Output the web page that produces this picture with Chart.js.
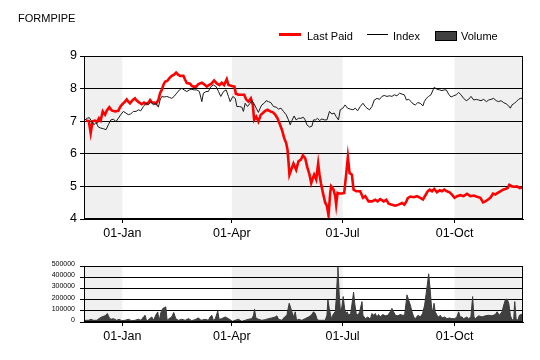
<!DOCTYPE html>
<html>
<head>
<meta charset="utf-8">
<script src="https://cdn.jsdelivr.net/npm/chart.js@4.4.1/dist/chart.umd.min.js"></script>
<style>
	html, body { margin: 0; padding: 0; background: #fff; }
	#wrap { position: relative; width: 540px; height: 360px; overflow: hidden; font-family: "Liberation Sans", Arial, sans-serif; font-size: 11px; color: #000; }
	canvas { position: absolute; left: 0; }
	#c-main { top: 0; }
	#c-vol { top: 250px; }
	.txt { position: absolute; line-height: 12px; white-space: nowrap; }
	.sw { position: absolute; }
</style>
</head>
<body>
<div id="wrap">
	<canvas id="c-main" width="540" height="250"></canvas>
	<canvas id="c-vol" width="540" height="110"></canvas>
	<div class="txt" style="left:18px; top:12px;">FORMPIPE</div>
	<div class="sw" style="left:279px; top:33px; width:22px; height:2.5px; background:#ff0000;"></div>
	<div class="txt" style="left:307px; top:29.5px;">Last Paid</div>
	<div class="sw" style="left:367px; top:33.5px; width:21px; height:1.5px; background:#000;"></div>
	<div class="txt" style="left:393px; top:29.5px;">Index</div>
	<div class="sw" style="left:435px; top:31px; width:20px; height:8px; background:#404040; border:1px solid #000;"></div>
	<div class="txt" style="left:461px; top:29.5px;">Volume</div>
</div>
<script>
// x = days from 01-Jan
const X_MIN = -31.5, X_MAX = 329.2;
const tickDays = [0, 90, 181, 273];
const tickLabels = ['01-Jan', '01-Apr', '01-Jul', '01-Oct'];
const shadeBands = [[-31.5, 0], [90, 181], [273, 329.2]];

// Last Paid (red)
const lastPaidDays = [-29.9,-27.5,-26.0,-24.4,-22.5,-20.6,-19.2,-17.8,-16.1,-14.2,-12.8,-10.7,-8.7,-6.0,-3.3,-1.9,-0.5,2.2,3.6,4.9,6.3,8.6,10.4,11.8,14.0,15.9,17.8,19.5,21.4,22.8,24.2,26.1,27.7,29.6,31.0,32.4,33.7,35.1,37.0,38.7,40.6,42.5,44.2,46.1,47.5,50.2,51.6,53.0,55.7,57.1,58.4,60.6,62.5,65.3,67.2,69.4,71.1,73.5,75.4,77.6,79.8,81.7,83.6,85.8,87.2,90.0,92.1,93.3,95.4,98.2,100.1,101.7,103.6,105.6,107.2,108.3,110.0,111.8,113.8,115.5,117.4,119.3,121.5,123.7,125.6,127.5,129.1,131.1,133.0,134.6,135.7,136.5,137.3,139.3,140.6,142.8,144.7,146.7,148.3,150.2,152.1,153.8,155.2,156.6,157.6,159.3,160.9,162.0,163.2,164.8,166.7,168.1,169.4,170.8,171.6,173.5,174.9,175.7,176.8,178.5,180.4,182.3,184.0,185.3,186.7,188.6,190.0,192.2,195.5,197.7,199.6,202.3,205.1,207.8,209.7,211.9,214.7,216.9,218.8,221.5,224.3,227.0,229.8,231.7,233.4,234.5,236.7,239.4,242.1,244.8,247.0,248.9,250.9,252.5,254.4,256.3,258.5,260.7,262.6,264.5,266.7,268.9,270.8,273.0,275.0,277.7,280.4,283.2,286.0,288.7,291.4,294.2,296.4,298.3,300.2,302.4,304.6,306.5,308.4,310.6,312.8,314.7,316.6,318.0,320.2,322.1,324.3,326.5,329.2];
const lastPaid = [7.02,7.00,6.64,7.00,7.02,6.98,7.09,7.02,7.30,7.20,7.32,7.43,7.33,7.30,7.32,7.43,7.50,7.60,7.67,7.60,7.55,7.65,7.70,7.63,7.57,7.52,7.57,7.53,7.57,7.65,7.58,7.57,7.53,7.65,7.86,7.96,8.11,8.21,8.24,8.32,8.39,8.43,8.49,8.42,8.39,8.39,8.27,8.17,8.15,8.08,8.06,8.06,8.14,8.18,8.13,8.06,8.11,8.16,8.25,8.16,8.11,8.18,8.11,8.29,8.11,8.08,8.06,7.84,7.81,7.81,7.81,7.67,7.60,7.70,7.50,7.04,7.14,6.99,7.20,7.25,7.32,7.35,7.30,7.27,7.20,7.09,6.94,6.74,6.48,6.33,6.13,5.77,5.36,5.57,5.70,5.51,5.77,5.82,5.95,5.87,5.57,5.36,5.10,5.26,5.36,5.21,5.70,5.36,5.10,4.80,4.50,4.40,4.11,4.80,5.00,4.90,4.70,4.44,4.80,4.78,4.78,4.80,5.41,5.90,5.41,5.36,4.90,4.85,4.85,4.65,4.70,4.54,4.54,4.59,4.54,4.61,4.54,4.59,4.47,4.44,4.41,4.44,4.49,4.44,4.54,4.64,4.69,4.67,4.70,4.65,4.60,4.72,4.85,4.90,4.85,4.92,4.82,4.88,4.85,4.90,4.85,4.82,4.75,4.65,4.70,4.73,4.70,4.77,4.70,4.72,4.68,4.65,4.51,4.54,4.59,4.65,4.78,4.75,4.80,4.85,4.90,4.92,4.95,5.05,5.00,4.99,5.00,4.95,4.97];

// Index (black)
const indexDays = [-30.7,-28.8,-27.1,-25.2,-23.3,-21.6,-19.7,-17.8,-15.6,-13.4,-11.5,-9.5,-7.4,-5.2,-3.3,-1.3,0.8,3.0,4.9,6.9,9.0,11.3,13.2,15.1,17.3,19.5,21.4,23.4,25.5,27.7,29.6,31.0,32.4,34.3,36.5,38.7,40.6,42.5,44.7,46.9,48.8,50.7,53.0,55.1,57.1,59.0,61.2,63.3,65.3,66.6,68.8,70.7,72.7,74.8,77.1,79.0,80.9,83.1,85.3,87.2,88.6,90.8,92.8,94.1,96.2,98.2,99.5,100.9,102.8,105.0,106.4,108.3,110.0,111.8,113.2,114.6,116.5,118.2,120.1,122.0,124.2,126.4,128.3,130.3,132.4,134.6,136.5,137.9,139.3,141.2,142.8,144.7,146.7,148.8,150.2,151.6,153.8,155.8,157.1,158.8,160.4,162.0,164.0,165.9,168.1,170.2,172.2,174.1,175.7,177.6,179.0,181.2,183.1,185.0,187.3,189.5,191.4,193.3,195.5,197.7,199.6,201.0,203.1,205.1,207.0,209.2,211.3,213.3,215.2,217.4,219.6,221.5,223.4,225.6,227.8,229.8,231.7,233.4,235.3,237.3,238.9,240.8,242.7,244.8,247.0,248.1,249.8,251.6,253.6,255.3,256.3,258.5,260.7,262.6,264.5,266.2,268.1,270.1,272.2,274.4,276.3,278.3,280.4,282.6,284.5,286.5,288.7,290.9,292.8,294.7,296.9,299.1,301.0,302.9,305.1,307.2,309.2,311.1,313.3,315.5,317.4,318.8,320.2,322.1,323.7,325.6,327.0,329.2];
const indexValues = [7.04,7.09,7.11,6.99,6.89,6.96,6.82,6.79,6.77,6.74,6.89,7.04,7.06,6.99,7.09,7.20,7.30,7.25,7.20,7.22,7.30,7.30,7.35,7.32,7.45,7.55,7.50,7.60,7.50,7.55,7.43,7.65,7.76,7.74,7.76,7.73,7.70,7.76,7.86,7.96,8.01,7.96,7.91,7.96,7.98,7.96,7.96,7.91,7.60,7.86,7.91,7.91,8.06,8.11,8.06,7.91,7.76,7.91,7.96,7.76,7.60,7.76,7.70,7.45,7.45,7.43,7.30,7.55,7.45,7.55,7.63,7.53,7.40,7.27,7.40,7.50,7.55,7.63,7.60,7.57,7.45,7.43,7.37,7.40,7.30,7.20,7.04,6.89,7.02,7.16,7.04,7.09,7.09,7.12,7.04,6.89,6.82,6.85,7.04,7.04,7.09,7.02,7.07,7.04,7.04,7.30,7.22,7.25,7.14,7.04,7.35,7.40,7.50,7.40,7.37,7.35,7.40,7.32,7.45,7.55,7.45,7.40,7.35,7.45,7.65,7.70,7.67,7.76,7.79,7.76,7.78,7.76,7.81,7.78,7.86,7.83,7.81,7.65,7.67,7.60,7.53,7.50,7.57,7.55,7.47,7.60,7.70,7.76,7.81,7.96,8.04,7.98,7.96,7.94,7.96,7.96,7.83,7.74,7.78,7.81,7.88,7.81,7.70,7.63,7.67,7.76,7.65,7.67,7.65,7.63,7.67,7.60,7.65,7.67,7.70,7.63,7.60,7.63,7.57,7.53,7.47,7.40,7.50,7.55,7.60,7.67,7.70,7.70];

// Volume
const volumeDays = [-30.7,-27.9,-25.7,-23.8,-21.1,-19.2,-17.0,-14.2,-12.3,-10.7,-9.3,-7.4,-4.6,-2.7,-0.5,2.2,5.0,7.7,10.4,13.2,15.4,17.3,18.7,20.0,21.9,24.2,25.8,27.4,29.1,30.2,31.8,33.2,34.6,35.7,36.8,38.4,40.6,42.2,43.9,46.1,48.8,51.6,54.3,57.0,59.8,62.5,64.7,68.0,70.7,72.1,73.5,74.8,76.2,78.4,79.5,81.7,84.5,87.2,90.5,92.7,95.4,98.2,100.9,103.6,106.4,107.8,108.6,109.7,111.9,114.6,117.4,120.1,122.9,125.6,127.0,128.3,131.1,133.3,135.2,136.0,137.1,138.5,139.3,140.7,142.1,143.1,144.8,147.5,150.2,153.0,155.2,157.1,158.5,159.9,161.2,164.0,166.7,168.1,168.9,170.0,171.7,173.6,174.9,175.8,176.6,177.1,178.2,179.3,180.4,181.5,182.6,183.7,184.8,185.9,187.6,188.6,190.0,191.1,192.2,193.6,195.0,196.9,197.7,199.6,201.8,203.7,205.1,206.4,207.8,209.2,210.5,211.9,213.9,216.0,218.2,220.1,221.5,222.9,224.3,226.4,228.4,230.3,231.9,233.9,235.2,236.6,238.0,239.4,240.7,242.9,244.8,246.7,248.4,249.5,250.6,251.7,252.8,253.9,255.0,256.1,257.1,258.5,259.9,261.2,262.6,264.8,266.7,268.6,270.8,273.0,274.9,276.3,277.6,279.0,280.4,281.7,283.1,284.5,286.4,287.8,288.9,290.0,292.8,295.5,298.3,301.0,303.7,306.5,307.9,309.8,312.0,313.4,314.7,316.1,317.5,318.8,320.2,321.6,322.4,323.5,325.1,326.2,328.4,329.2];
const volume = [15000,15000,24000,15000,15000,30000,45000,55000,76000,36000,24000,30000,15000,24000,12000,15000,24000,12000,15000,24000,15000,45000,60000,6000,24000,45000,15000,60000,90000,6000,90000,120000,130000,135000,15000,30000,45000,85000,30000,15000,24000,15000,30000,12000,21000,36000,15000,24000,15000,45000,60000,15000,24000,97000,24000,30000,45000,30000,6000,15000,24000,6000,15000,24000,30000,60000,115000,36000,24000,15000,21000,30000,36000,45000,55000,24000,15000,45000,60000,106000,167000,121000,91000,45000,91000,15000,24000,15000,30000,45000,60000,91000,76000,30000,15000,15000,15000,60000,197000,121000,30000,76000,91000,212000,394000,490000,242000,76000,136000,227000,121000,76000,91000,60000,76000,152000,267000,152000,76000,60000,91000,182000,60000,30000,45000,24000,76000,60000,76000,45000,67000,45000,67000,55000,60000,91000,121000,91000,60000,55000,67000,60000,60000,242000,197000,152000,91000,45000,30000,60000,45000,76000,152000,242000,333000,430000,303000,152000,76000,167000,91000,60000,45000,60000,36000,45000,30000,36000,30000,30000,45000,91000,45000,45000,30000,36000,45000,30000,45000,227000,45000,30000,55000,45000,55000,60000,55000,67000,91000,60000,91000,152000,197000,206000,167000,60000,15000,30000,182000,30000,15000,60000,70000,70000];

const FONT = '"Liberation Sans", Arial, sans-serif';
Chart.defaults.color = '#000';
Chart.defaults.font.family = FONT;

function toPoints(xs, ys) {
	return xs.map((x, i) => ({ x, y: ys[i] }));
}

// 분기 음영 + 테두리
const framePlugin = {
	id: 'frame',
	beforeDraw(chart) {
		const { ctx, chartArea: a, scales: { x } } = chart;
		ctx.save();
		ctx.fillStyle = '#f0f0f0';
		for (const [s, e] of shadeBands) {
			const x1 = x.getPixelForValue(s), x2 = x.getPixelForValue(e);
			ctx.fillRect(x1, a.top, x2 - x1, a.bottom - a.top);
		}
		ctx.restore();
	},
	afterDatasetsDraw(chart) {
		const { ctx, chartArea: a } = chart;
		ctx.save();
		ctx.strokeStyle = '#000';
		ctx.lineWidth = 1;
		ctx.strokeRect(Math.round(a.left) + 0.5, Math.round(a.top) + 0.5, Math.round(a.right - a.left) - 1, Math.round(a.bottom - a.top) - 1);
		ctx.restore();
	}
};

function xScale(height) {
	return {
		type: 'linear', min: X_MIN, max: X_MAX,
		afterFit: s => { s.height = height; },
		afterBuildTicks: s => { s.ticks = tickDays.map(v => ({ value: v })); },
		ticks: {
			autoSkip: false, maxRotation: 0, padding: 3,
			font: { size: 12.5 },
			callback: v => tickLabels[tickDays.indexOf(v)] || ''
		},
		grid: { drawOnChartArea: false, drawTicks: true, tickLength: 4, color: '#000' },
		border: { display: true, color: '#000' }
	};
}

function initMain() {
	new Chart(document.getElementById('c-main'), {
		type: 'line',
		data: {
			datasets: [
				{ label: 'Index', data: toPoints(indexDays, indexValues), borderColor: '#1a1a1a', borderWidth: 1, pointRadius: 0, tension: 0, order: 0 },
				{ label: 'Last Paid', data: toPoints(lastPaidDays, lastPaid), borderColor: '#ff0000', borderWidth: 2.6, pointRadius: 0, tension: 0, order: 1 }
			]
		},
		options: {
			responsive: false, animation: false, devicePixelRatio: 1,
			layout: { padding: { top: 56, right: 17, left: 0, bottom: 0 } },
			plugins: { legend: { display: false }, tooltip: { enabled: false } },
			scales: {
				x: xScale(31),
				y: {
					min: 4, max: 9,
					afterFit: s => { s.width = 84; },
					ticks: { stepSize: 1, padding: 3, autoSkip: false, font: { size: 12.5 } },
					grid: { color: '#000', lineWidth: 1, tickLength: 4 },
					border: { display: true, color: '#000' }
				}
			}
		},
		plugins: [framePlugin]
	});
}

function initVolume() {
	new Chart(document.getElementById('c-vol'), {
		type: 'line',
		data: {
			datasets: [
				{ label: 'Volume', data: toPoints(volumeDays, volume), borderColor: '#3a3a3a', backgroundColor: '#404040', borderWidth: 1, fill: 'origin', pointRadius: 0, tension: 0 }
			]
		},
		options: {
			responsive: false, animation: false, devicePixelRatio: 1,
			layout: { padding: { top: 16, right: 17, left: 0, bottom: 0 } },
			plugins: { legend: { display: false }, tooltip: { enabled: false } },
			scales: {
				x: xScale(38),
				y: {
					min: 0, max: 500000,
					afterFit: s => { s.width = 84; },
					ticks: { stepSize: 100000, padding: 5, autoSkip: false, labelOffset: -2, font: { size: 7 }, callback: v => String(v) },
					grid: { color: '#000', lineWidth: 1, tickLength: 4 },
					border: { display: true, color: '#000' }
				}
			}
		},
		plugins: [framePlugin]
	});
}

initMain();
initVolume();
</script>
</body>
</html>
